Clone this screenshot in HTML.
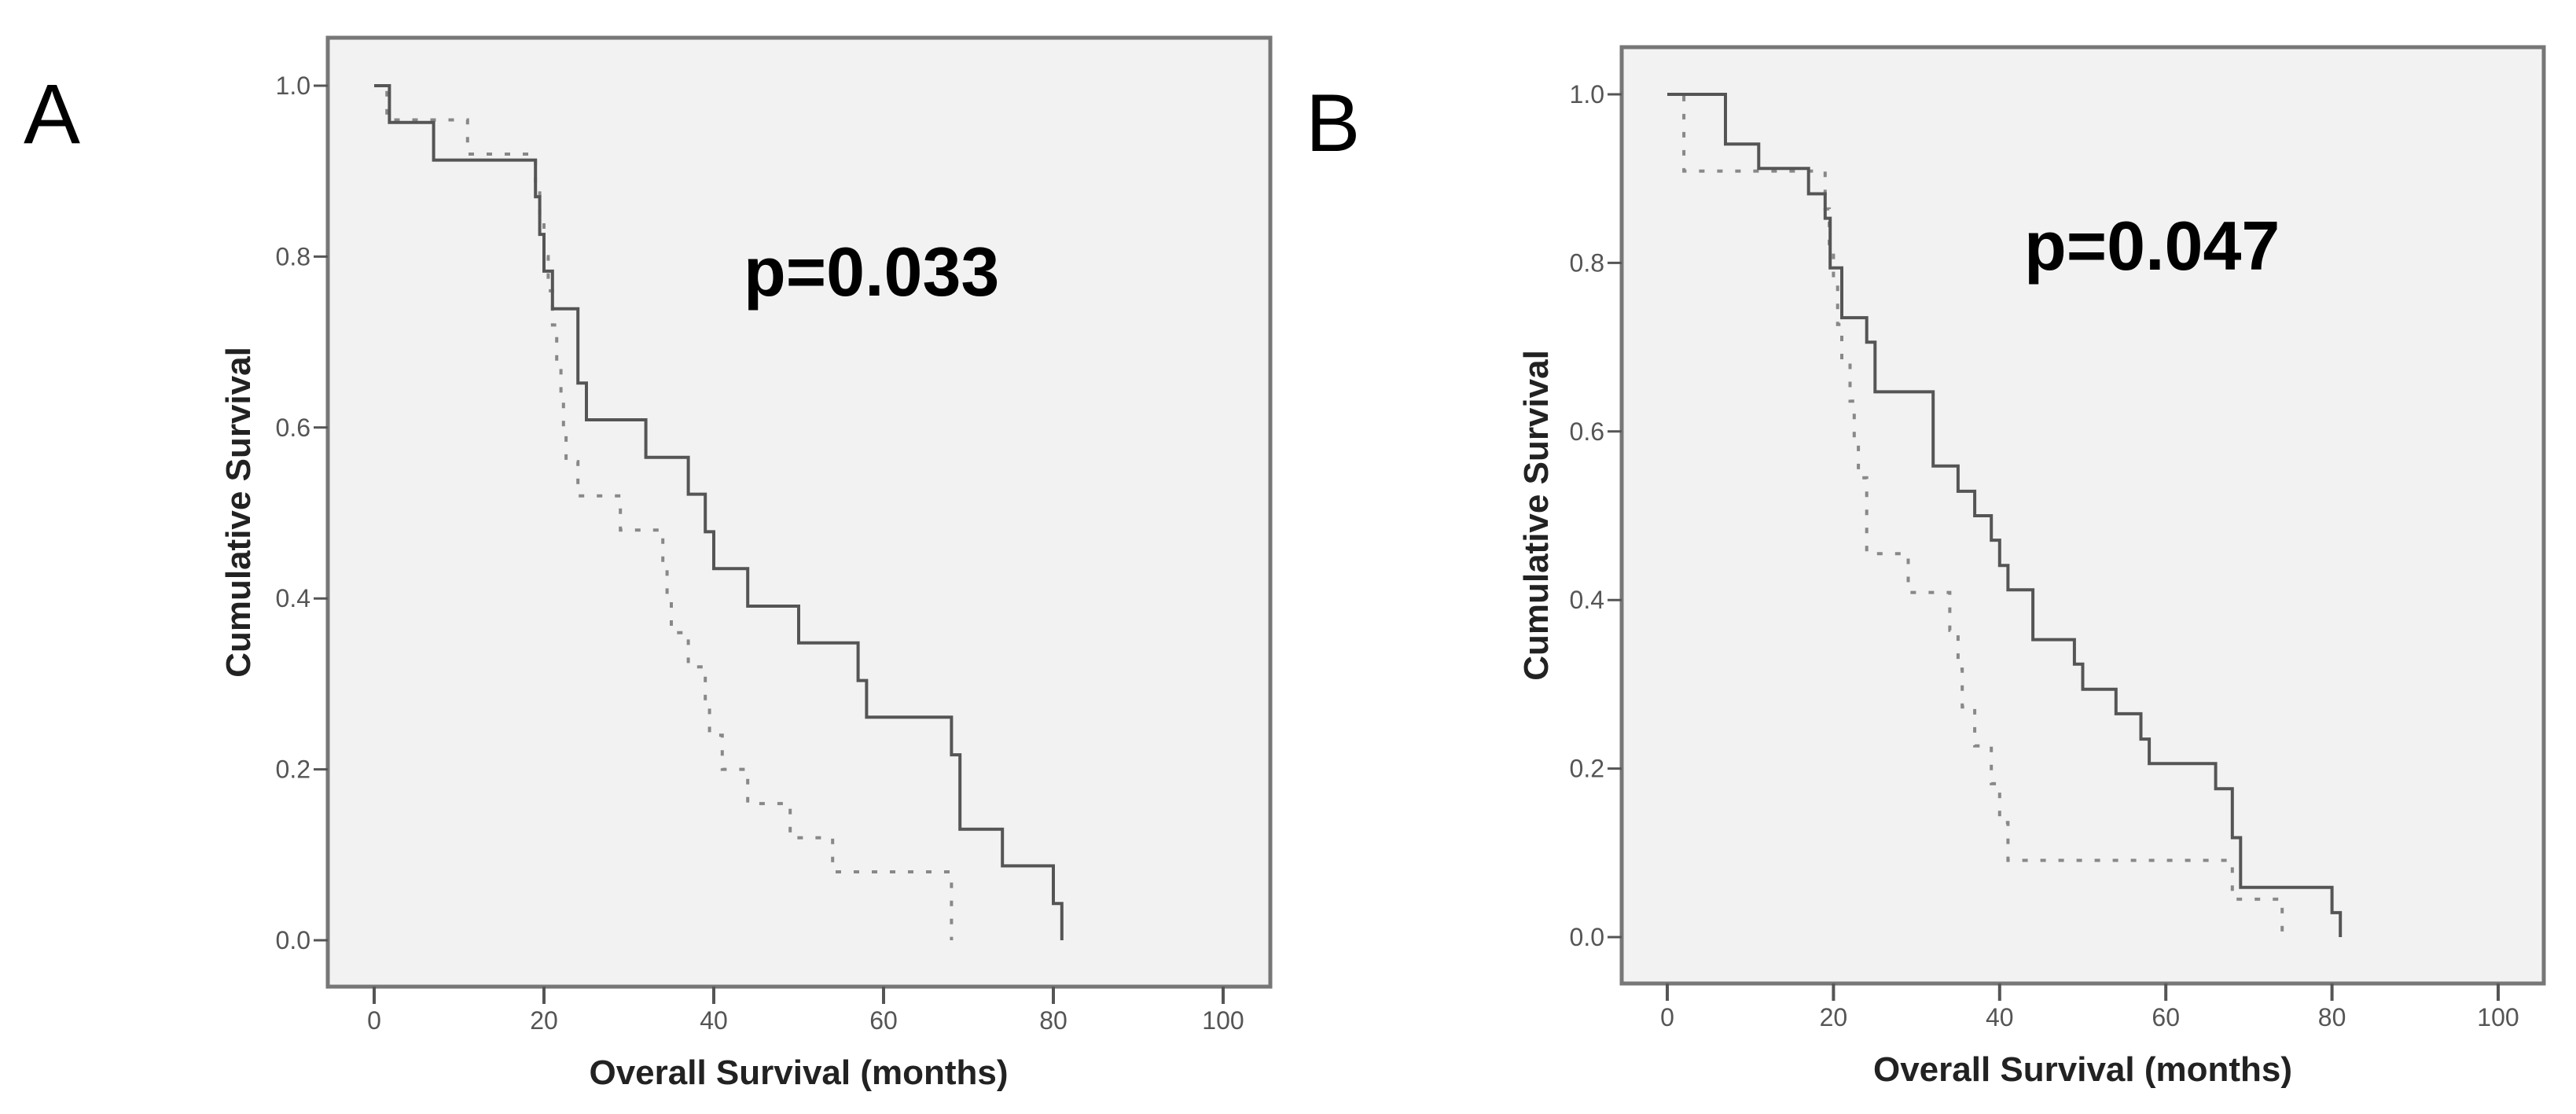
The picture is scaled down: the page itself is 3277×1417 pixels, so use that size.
<!DOCTYPE html>
<html><head><meta charset="utf-8"><style>
html,body{margin:0;padding:0;background:#fff;}
svg{display:block;font-family:"Liberation Sans",Arial,sans-serif;}
</style></head><body>
<svg id="fig" width="3277" height="1417" viewBox="0 0 3277 1417" xmlns="http://www.w3.org/2000/svg">
<rect width="3277" height="1417" fill="#fff"/>
</svg>
<script>
// X ticks (months) and Y ticks (cumulative survival)
const xTicks = [0, 20, 40, 60, 80, 100];
const yTicks = [0.0, 0.2, 0.4, 0.6, 0.8, 1.0];
const yTickLabels = ["0.0", "0.2", "0.4", "0.6", "0.8", "1.0"];
// Panel A
const aSolidTimes = [1.8, 7, 19, 19.5, 20, 21, 24, 25, 32, 37, 39, 40, 44, 50, 57, 58, 68, 69, 74, 80, 81];
const aSolidValues = [0.957, 0.913, 0.870, 0.826, 0.783, 0.739, 0.652, 0.609, 0.565, 0.522, 0.478, 0.435, 0.391, 0.348, 0.304, 0.261, 0.217, 0.130, 0.087, 0.043, 0.0];
const aDashTimes = [1.5, 11, 19, 19.5, 20, 20.5, 21, 21.5, 22, 22.3, 22.6, 24, 29, 34, 34.5, 35, 37, 39, 39.5, 41, 44, 49, 54, 68];
const aDashValues = [0.96, 0.92, 0.88, 0.84, 0.80, 0.76, 0.72, 0.68, 0.64, 0.60, 0.56, 0.52, 0.48, 0.44, 0.40, 0.36, 0.32, 0.28, 0.24, 0.20, 0.16, 0.12, 0.08, 0.0];
const aPValue = "p=0.033";
// Panel B
const bSolidTimes = [7, 11, 17, 19, 19.6, 21, 24, 25, 32, 35, 37, 39, 40, 41, 44, 49, 50, 54, 57, 58, 66, 68, 69, 80, 81];
const bSolidValues = [0.941, 0.912, 0.882, 0.853, 0.794, 0.735, 0.706, 0.647, 0.559, 0.529, 0.500, 0.471, 0.441, 0.412, 0.353, 0.324, 0.294, 0.265, 0.235, 0.206, 0.176, 0.118, 0.059, 0.029, 0.0];
const bDashTimes = [2, 19, 19.5, 20, 20.5, 21, 22, 22.5, 23, 24, 29, 34, 35, 35.5, 37, 39, 40, 41, 68, 74];
const bDashValues = [0.909, 0.864, 0.818, 0.773, 0.727, 0.682, 0.636, 0.591, 0.545, 0.455, 0.409, 0.364, 0.318, 0.273, 0.227, 0.182, 0.136, 0.091, 0.045, 0.0];
const bPValue = "p=0.047";

const NS = "http://www.w3.org/2000/svg";
const svg = document.getElementById('fig');
function mk(tag, attrs, parent) {
  const e = document.createElementNS(NS, tag);
  for (const k in attrs) e.setAttribute(k, attrs[k]);
  (parent || svg).appendChild(e);
  return e;
}
function stepPath(times, values, sx, sy) {
  let d = "M" + sx(0) + "," + sy(1);
  for (let i = 0; i < times.length; i++) {
    d += " H" + sx(times[i]).toFixed(1) + " V" + sy(values[i]).toFixed(1);
  }
  return d;
}
function panel(cfg) {
  const g = mk('g', {});
  
  
  const sx = m => cfg.x0 + m * cfg.xs;
  const sy = v => cfg.y0 - v * cfg.ys;
  const box = mk('rect', {x: cfg.left, y: cfg.top, width: cfg.right - cfg.left, height: cfg.bottom - cfg.top, fill: '#f2f2f2', stroke: '#777', 'stroke-width': 5}, g);
  
  
  xTicks.forEach(t => {
    const l = mk('line', {x1: sx(t), x2: sx(t), y1: cfg.bottom, y2: cfg.bottom + 22, stroke: '#555', 'stroke-width': 4}, g);
    
    
    const tx = mk('text', {x: sx(t), y: cfg.y0 + 113, 'font-size': 32, fill: '#555', 'text-anchor': 'middle'}, g);
    tx.textContent = String(t);
    
    
  });
  yTicks.forEach((t, i) => {
    const l = mk('line', {x1: cfg.left - 18, x2: cfg.left, y1: sy(t), y2: sy(t), stroke: '#555', 'stroke-width': 3}, g);
    
    
    const tx = mk('text', {x: cfg.left - 22, y: sy(t) + 11, 'font-size': 32, fill: '#555', 'text-anchor': 'end'}, g);
    tx.textContent = yTickLabels[i];
    
    
  });
  const dash = mk('path', {d: stepPath(cfg.dT, cfg.dV, sx, sy), fill: 'none', stroke: '#888', 'stroke-width': 4, 'stroke-dasharray': '7 16'}, g);
  
  
  const solid = mk('path', {d: stepPath(cfg.sT, cfg.sV, sx, sy), fill: 'none', stroke: '#555', 'stroke-width': 4}, g);
  
  
  const yt = mk('text', {x: 0, y: 0, 'font-size': 44, 'font-weight': 'bold', fill: '#222', 'text-anchor': 'middle', transform: 'translate(' + (cfg.ytX + 15) + ',' + ((cfg.top + cfg.bottom) / 2) + ') rotate(-90)'}, g);
  yt.textContent = 'Cumulative Survival';
  
  
  const xt = mk('text', {x: sx(50), y: cfg.y0 + 183, 'font-size': 44, 'font-weight': 'bold', fill: '#222', 'text-anchor': 'middle'}, g);
  xt.textContent = 'Overall Survival (months)';
  
  
  const p = mk('text', {x: cfg.pX, y: cfg.pY, 'font-size': 88, 'font-weight': 'bold', fill: '#000'}, g);
  p.textContent = cfg.p;
  
  
  const lt = mk('text', {x: cfg.letX, y: cfg.letY, 'font-size': cfg.letSize, fill: '#000'}, g);
  lt.textContent = cfg.letter;
  
  
}
panel({name: 'panel-a', left: 417, right: 1616, top: 48, bottom: 1255, x0: 476, xs: 10.8, y0: 1196, ys: 1087,
  sT: aSolidTimes, sV: aSolidValues, dT: aDashTimes, dV: aDashValues, p: aPValue, pX: 946, pY: 376,
  ytX: 303, letter: 'A', letX: 30, letY: 182, letSize: 108});
panel({name: 'panel-b', left: 2063, right: 3236, top: 60, bottom: 1251, x0: 2121, xs: 10.57, y0: 1192, ys: 1072,
  sT: bSolidTimes, sV: bSolidValues, dT: bDashTimes, dV: bDashValues, p: bPValue, pX: 2575, pY: 343,
  ytX: 1954, letter: 'B', letX: 1661, letY: 192, letSize: 104});
</script>
</body></html>
